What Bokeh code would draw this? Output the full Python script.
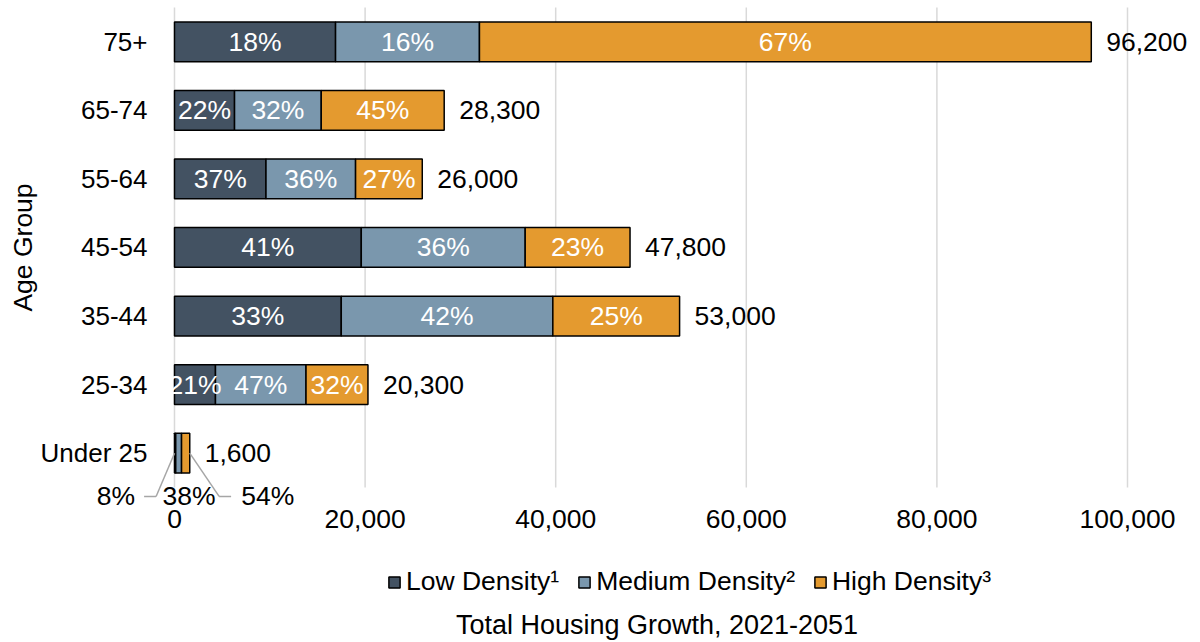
from bokeh.plotting import figure
from bokeh.models import (ColumnDataSource, FixedTicker, Legend, LegendItem, Label,
                          Arrow, NumeralTickFormatter, Range1d)
from bokeh.core.properties import value
from bokeh.embed import file_html
from bokeh.resources import INLINE

# ---------------- data ----------------
groups = ["Under 25", "25-34", "35-44", "45-54", "55-64", "65-74", "75+"]
low = [130, 4300, 17500, 19600, 9600, 6300, 16900]
medium = [610, 9500, 22200, 17200, 9400, 9100, 15100]
high = [860, 6500, 13300, 11000, 7000, 12900, 64200]
totals = [1600, 20300, 53000, 47800, 26000, 28300, 96200]
low_pct = ["8%", "21%", "33%", "41%", "37%", "22%", "18%"]
med_pct = ["38%", "47%", "42%", "36%", "36%", "32%", "16%"]
high_pct = ["54%", "32%", "25%", "23%", "27%", "45%", "67%"]
x_ticks = [0, 20000, 40000, 60000, 80000, 100000]
series = ["Low Density\u00b9", "Medium Density\u00b2", "High Density\u00b3"]
colors = ["#435262", "#7A97AD", "#E49A2F"]
x_title = "Total Housing Growth, 2021-2051"
y_title = "Age Group"

FONT = "Liberation Sans"
FS = "26.5px"
FS2 = "27px"

ypos = list(range(len(groups)))
low_end = [a for a in low]
med_end = [a + b for a, b in zip(low, medium)]
high_end = [a + b + c for a, b, c in zip(low, medium, high)]

src = ColumnDataSource(dict(
    y=ypos, low0=[0] * len(ypos), low1=low_end, med1=med_end, high1=high_end,
    total=totals, total_lbl=[f"{t:,}" for t in totals],
))

# the frame spans the whole canvas; axes are pinned inside it
p = figure(width=1200, height=642, output_backend="svg", toolbar_location=None,
           x_range=Range1d(-18258, 107660), y_range=Range1d(-2.761, 6.602),
           min_border_left=0, min_border_right=0, min_border_top=0, min_border_bottom=0)
p.outline_line_color = None
p.background_fill_color = "white"
p.border_fill_color = "white"
p.xgrid.visible = False
p.ygrid.visible = False

# gridlines (limited to the bar area)
p.segment(x0=x_ticks, x1=x_ticks, y0=[-0.5] * len(x_ticks), y1=[6.5] * len(x_ticks),
          line_color="#D9D9D9", line_width=1.5)

H = 0.58
r_low = p.hbar(y="y", left="low0", right="low1", height=H, source=src,
               fill_color=colors[0], line_color="black", line_width=1.5)
r_med = p.hbar(y="y", left="low1", right="med1", height=H, source=src,
               fill_color=colors[1], line_color="black", line_width=1.5)
r_high = p.hbar(y="y", left="med1", right="high1", height=H, source=src,
                fill_color=colors[2], line_color="black", line_width=1.5)

# in-bar percentage labels (all groups except Under 25, which uses callouts)
idx = ypos[1:]
lab_src = ColumnDataSource(dict(
    x=[low_end[i] / 2 for i in idx] + [(low_end[i] + med_end[i]) / 2 for i in idx]
      + [(med_end[i] + high_end[i]) / 2 for i in idx],
    y=[ypos[i] for i in idx] * 3,
    t=[low_pct[i] for i in idx] + [med_pct[i] for i in idx] + [high_pct[i] for i in idx],
))
p.text(x="x", y="y", text="t", source=lab_src, text_font=value(FONT), text_font_size=FS,
       text_color="white", text_align="center", text_baseline="middle")

# totals
p.text(x="total", y="y", text="total_lbl", source=src, x_offset=15,
       text_font=value(FONT), text_font_size=FS, text_color="black",
       text_align="left", text_baseline="middle")

# callouts for Under 25
cy = -0.631
lead = "#A6A6A6"
for xs, ys, xe, ye in [(0, ypos[0], -1930, cy), (-1930, cy, -3190, cy),
                       (high_end[0], ypos[0], high_end[0] + 3080, cy),
                       (high_end[0] + 3080, cy, high_end[0] + 4340, cy)]:
    p.add_layout(Arrow(x_start=xs, y_start=ys, x_end=xe, y_end=ye, end=None,
                       line_color=lead, line_width=1.5))
p.add_layout(Label(x=-4130, y=cy, text=low_pct[0], text_align="right", text_baseline="middle",
                   text_font=FONT, text_font_size=FS, text_color="black"))
p.add_layout(Label(x=(low_end[0] + med_end[0]) / 2 + 1100, y=cy, text=med_pct[0],
                   text_align="center", text_baseline="middle",
                   text_font=FONT, text_font_size=FS, text_color="black"))
p.add_layout(Label(x=high_end[0] + 5400, y=cy, text=high_pct[0], text_align="left",
                   text_baseline="middle",
                   text_font=FONT, text_font_size=FS, text_color="black"))

# axes (pinned at data locations)
p.yaxis.fixed_location = 0
p.yaxis.bounds = (-0.5, 6.5)
p.yaxis.ticker = FixedTicker(ticks=ypos)
p.yaxis.major_label_overrides = {i: g for i, g in zip(ypos, groups)}
p.yaxis.axis_line_color = None
p.yaxis.major_tick_line_color = None
p.yaxis.minor_tick_line_color = None
p.yaxis.major_label_standoff = 21
p.yaxis.major_label_text_font = FONT
p.yaxis.major_label_text_font_size = "26px"
p.yaxis.major_label_text_color = "black"
p.yaxis.axis_label = y_title
p.yaxis.axis_label_text_font = FONT
p.yaxis.axis_label_text_font_size = FS
p.yaxis.axis_label_text_font_style = "normal"
p.yaxis.axis_label_text_color = "black"
p.yaxis.axis_label_standoff = 0

p.xaxis.fixed_location = -0.734
p.xaxis.ticker = FixedTicker(ticks=x_ticks)
p.xaxis.formatter = NumeralTickFormatter(format="0,0")
p.xaxis.axis_line_color = None
p.xaxis.major_tick_line_color = None
p.xaxis.minor_tick_line_color = None
p.xaxis.major_label_standoff = 0
p.xaxis.major_label_text_font = FONT
p.xaxis.major_label_text_font_size = FS
p.xaxis.major_label_text_color = "black"

legend = Legend(items=[LegendItem(label=series[0], renderers=[r_low]),
                       LegendItem(label=series[1], renderers=[r_med]),
                       LegendItem(label=series[2], renderers=[r_high])],
                orientation="horizontal", location=(387, 45),
                label_text_font=FONT, label_text_font_size=FS, label_text_color="black",
                glyph_width=14, glyph_height=14, label_standoff=5, spacing=18,
                border_line_color=None, background_fill_alpha=0, padding=0, margin=0)
p.add_layout(legend, "center")

p.add_layout(Label(x=50000, y=-2.513, x_offset=6, text=x_title, text_align="center",
                   text_baseline="middle", text_font=FONT, text_font_size=FS2,
                   text_color="black"))

open("out.html", "w").write(file_html(p, INLINE))
